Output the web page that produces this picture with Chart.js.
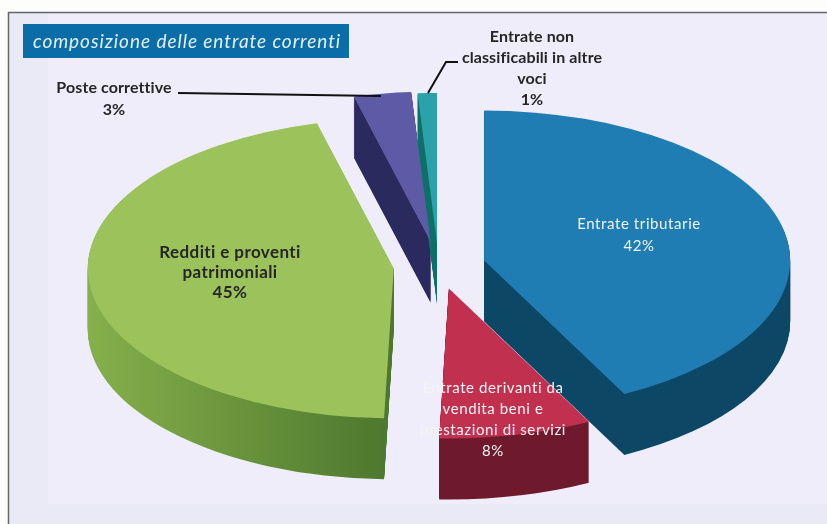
<!DOCTYPE html>
<html lang="it">
<head>
    <meta charset="UTF-8">
    <title>Composizione delle entrate correnti</title>
    <script src="https://cdn.jsdelivr.net/npm/chart.js"></script>
    <style>
        html, body { margin: 0; padding: 0; background: #fdfdfb; }
        canvas { display: block; }
    </style>
</head>
<body>
    <canvas id="pie" width="827" height="524"></canvas>
    <script>
        // Data
        const titolo = 'composizione delle entrate correnti';
        const categorie = [
            'Entrate tributarie',
            'Entrate derivanti da vendita beni e prestazioni di servizi',
            'Redditi e proventi patrimoniali',
            'Poste correttive',
            'Entrate non classificabili in altre voci'
        ];
        const valori = [42, 8, 45, 3, 1];

        // Line breaks of the labels, same order as categorie
        const righe = [
            ['Entrate tributarie'],
            ['Entrate derivanti da', 'vendita beni e', 'prestazioni di servizi'],
            ['Redditi e proventi', 'patrimoniali'],
            ['Poste correttive'],
            ['Entrate non', 'classificabili in altre', 'voci']
        ];

        const coloriTop = ['#1f7db3', '#c2304f', '#9cc25c', '#5d5ba6', '#2ba2aa'];
        const coloriLato = [
            ['#0c4766', '#0c4766'],
            ['#6f1a2c', '#6f1a2c'],
            ['#86b04b', '#4c772d'],
            ['#2b2a5e', '#2b2a5e'],
            ['#0c7068', '#0c7068']
        ];

        // Fake 3D: the flat pie is squashed to this ellipse, each slice pulled out by its stacco
        const RX = 306, RY = 150, PROF = 61;
        const CX = 438.5, CY = 266;
        const stacchi = [47, 47, 45, 50, 47];

        // apex of a slice on the page
        function apice(arc, i) {
            const mid = (arc.startAngle + arc.endAngle) / 2;
            return {
                x: CX + Math.cos(mid) * stacchi[i],
                y: CY + Math.sin(mid) * stacchi[i] * RY / RX
            };
        }

        function lato(ctx, arc, i) {
            const p = apice(arc, i);
            const grad = ctx.createLinearGradient(p.x - RX, 0, p.x, 0);
            grad.addColorStop(0, coloriLato[i][0]);
            grad.addColorStop(1, coloriLato[i][1]);
            ctx.fillStyle = grad;
            for (let d = PROF; d > 0; d--) {
                ctx.beginPath();
                ctx.moveTo(p.x, p.y + d);
                ctx.ellipse(p.x, p.y + d, RX, RY, 0, arc.startAngle, arc.endAngle);
                ctx.closePath();
                ctx.fill();
            }
        }

        function testo(ctx, linee, x, y, passo) {
            linee.forEach((l, n) => ctx.fillText(l, x, y + n * passo));
        }

        const pie3d = {
            id: 'pie3d',
            beforeDraw(chart) {
                const ctx = chart.ctx;
                ctx.save();
                ctx.fillStyle = '#fdfdfb';
                ctx.fillRect(0, 0, 827, 524);
                ctx.fillStyle = '#eaeaf7';
                ctx.fillRect(9, 13, 818, 511);
                ctx.fillStyle = '#eeedf9';
                ctx.fillRect(48, 13, 779, 491);
                ctx.strokeStyle = '#666666';
                ctx.lineWidth = 1.5;
                ctx.beginPath();
                ctx.moveTo(8.5, 524);
                ctx.lineTo(8.5, 12.5);
                ctx.lineTo(827, 12.5);
                ctx.stroke();
                ctx.restore();
            },
            beforeDatasetDraw(chart) {
                const ctx = chart.ctx;
                const arcs = chart.getDatasetMeta(0).data;
                // walls first, back slices before front ones
                [3, 4, 0, 2, 1].forEach(i => lato(ctx, arcs[i], i));
                // then the library's own arcs, squashed and pulled out one by one
                arcs.forEach((arc, i) => {
                    const p = apice(arc, i);
                    ctx.save();
                    ctx.translate(p.x, p.y);
                    ctx.scale(RX / arc.outerRadius, RY / arc.outerRadius);
                    ctx.translate(-arc.x, -arc.y);
                    arc.draw(ctx);
                    ctx.restore();
                });
                return false;
            },
            afterDatasetsDraw(chart) {
                const ctx = chart.ctx;
                ctx.save();

                // title box
                ctx.fillStyle = '#0a6da8';
                ctx.fillRect(23, 24, 326, 34);
                ctx.fillStyle = '#e4f0f8';
                ctx.font = 'italic 19px Lato';
                ctx.letterSpacing = '0.95px';
                ctx.textBaseline = 'middle';
                ctx.textAlign = 'left';
                ctx.fillText(titolo, 33, 42);
                ctx.letterSpacing = '0px';

                // leader lines
                ctx.strokeStyle = '#111111';
                ctx.lineWidth = 2;
                ctx.beginPath();
                ctx.moveTo(178, 93);
                ctx.lineTo(381, 96);
                ctx.moveTo(458, 62);
                ctx.lineTo(446, 62);
                ctx.lineTo(428, 93);
                ctx.stroke();

                // labels
                ctx.textAlign = 'center';
                ctx.fillStyle = '#262626';
                ctx.font = 'bold 17px Lato';
                ctx.letterSpacing = '0.4px';
                testo(ctx, righe[2].concat(valori[2] + '%'), 230, 253, 20);
                ctx.font = 'bold 16px Lato';
                ctx.letterSpacing = '0.1px';
                testo(ctx, righe[3].concat(valori[3] + '%'), 114, 88, 22);
                testo(ctx, righe[4].concat(valori[4] + '%'), 532, 37, 21);
                ctx.font = '15px Lato';
                ctx.fillStyle = '#f2f4f6';
                ctx.letterSpacing = '0.6px';
                testo(ctx, righe[0].concat(valori[0] + '%'), 639, 224, 22);
                testo(ctx, righe[1].concat(valori[1] + '%'), 493, 388, 21);
                ctx.restore();
            }
        };

        new Chart(document.getElementById('pie'), {
            type: 'pie',
            data: {
                labels: categorie,
                datasets: [{
                    data: valori,
                    backgroundColor: coloriTop,
                    borderWidth: 0,
                    clip: false
                }]
            },
            options: {
                responsive: false,
                animation: false,
                events: [],
                plugins: {
                    legend: { display: false },
                    tooltip: { enabled: false }
                }
            },
            plugins: [pie3d]
        });
    </script>
</body>
</html>
